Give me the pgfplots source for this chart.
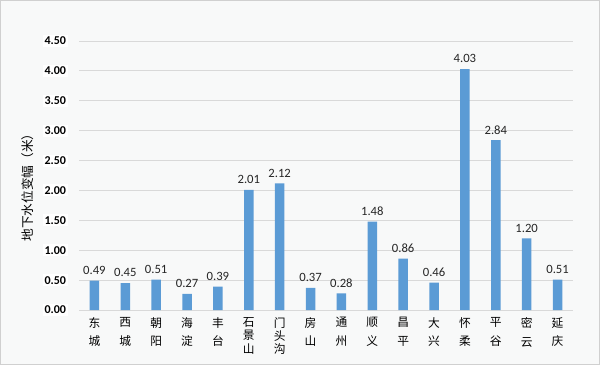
\documentclass[border=0pt]{standalone}
\usepackage{pgfplots}
\pgfplotsset{compat=1.18}
\usepackage{fontspec}
\setmainfont{Carlito}
\newfontfamily\cjk{Noto Sans CJK SC}
\definecolor{barblue}{HTML}{5B9BD5}
\definecolor{gridgray}{HTML}{D9D9D9}
\definecolor{bggray}{HTML}{F8F9F9}
\definecolor{framegray}{HTML}{D0D0D0}
\pgfplotsset{/pgf/number format/assume math mode=true}
\begin{document}
\begin{tikzpicture}[x=1pt,y=1pt]
\fill[bggray] (0,0) rectangle (450,273.75);
\draw[framegray, line width=0.8pt] (0.4,0.4) rectangle (449.6,273.35);
\begin{axis}[
  at={(59.25pt,41.25pt)}, anchor=south west, scale only axis,
  width=370.5pt, height=201.75pt,
  ybar, bar width=7.1pt,
  ymin=0, ymax=4.5, ytick={0,0.5,...,4.5},
  xmin=-0.5, xmax=15.5, xtick={0,...,15},
  xticklabels={{东\\城},{西\\城},{朝\\阳},{海\\淀},{丰\\台},{石\\[-4pt]景\\[-4pt]山},{门\\[-4pt]头\\[-4pt]沟},{房\\山},{通\\州},{顺\\义},{昌\\平},{大\\兴},{怀\\柔},{平\\谷},{密\\云},{延\\庆}},
  xticklabel style={align=center, font=\cjk\fontsize{8.8}{14}\selectfont, anchor=north, yshift=-2pt},
  axis line style={draw=none},
  major tick length=0pt,
  ymajorgrids, major grid style={gridgray, line width=0.75pt},
  yticklabel style={font=\bfseries\fontsize{9}{10}\selectfont, fill=white, inner sep=1.5pt, xshift=-8pt,
    /pgf/number format/.cd, fixed, fixed zerofill, precision=2},
  nodes near coords={\pgfmathprintnumber[fixed,fixed zerofill,precision=2]{\pgfplotspointmeta}},
  nodes near coords style={font=\fontsize{9.5}{10}\selectfont, text=black!85, yshift=1pt},
  clip=false,
]
\addplot[fill=barblue, draw=none] coordinates {
(0,0.49) (1,0.45) (2,0.51) (3,0.27) (4,0.39) (5,2.01) (6,2.12) (7,0.37)
(8,0.28) (9,1.48) (10,0.86) (11,0.46) (12,4.03) (13,2.84) (14,1.20) (15,0.51)};
\end{axis}
\node[rotate=90, font=\cjk\fontsize{9.5}{10}\selectfont] at (21,135.5) {地下水位变幅（米）};
\end{tikzpicture}
\end{document}
